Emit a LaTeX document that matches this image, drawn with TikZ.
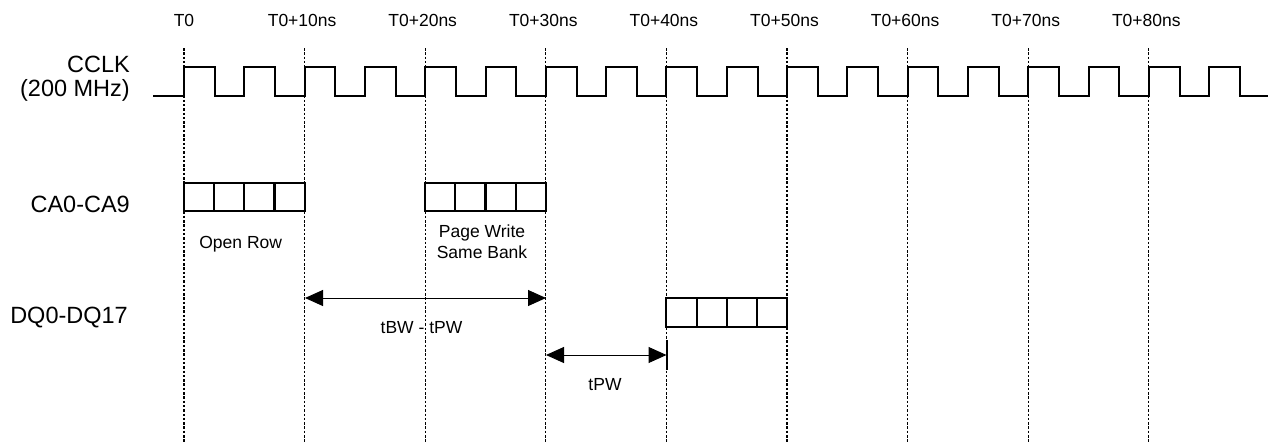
\documentclass[tikz,border=0pt]{standalone}
\usepackage{fontspec}
\setmainfont{Liberation Sans}
\usetikzlibrary{arrows.meta}
\begin{document}
\begin{tikzpicture}[x=1pt,y=-1pt,
  grid/.style={line width=1.1pt,dash pattern=on 2.5pt off 1.8pt},
  clk/.style={line width=2pt,line join=miter},
  cell/.style={draw,line width=2.1pt,minimum width=30.15pt,minimum height=28.5pt,inner sep=0pt,outer sep=0pt},
  toplbl/.style={font=\fontsize{17.5}{20}\selectfont,anchor=base,inner sep=0pt},
  sidelbl/.style={font=\fontsize{23.5}{27}\selectfont,anchor=base east,inner sep=0pt},
  smalllbl/.style={font=\fontsize{17.5}{20}\selectfont,anchor=base,inner sep=0pt},
  dim/.style={line width=1pt,{Triangle[length=18pt,width=16pt]}-{Triangle[length=18pt,width=16pt]}},
  bar/.style={line width=1.6pt}]
\useasboundingbox (0,0) rectangle (1268,447);
% time grid
\foreach \k/\txt in {0/T0,1/T0+10ns,2/T0+20ns,3/T0+30ns,4/T0+40ns,5/T0+50ns,6/T0+60ns,7/T0+70ns,8/T0+80ns}{
  \coordinate (g\k top) at ({184+\k*120.6},48);
  \coordinate (g\k bot) at ({184+\k*120.6},443);
  \draw[grid] (g\k top) -- (g\k bot);
  \node[toplbl] (t\k) at ({184+\k*120.6-(\k>0)*2.5},27) {\txt};
}
% clock
\draw[clk] (153,96) \foreach \j in {0,...,17}{ -- ({184+\j*60.3},96) -- ({184+\j*60.3},67) -- ({214.8+\j*60.3},67) -- ({214.8+\j*60.3},96) } -- (1268,96);
% side labels
\node[sidelbl] (lclk) at (130,72) {CCLK};
\node[sidelbl] (lfreq) at (130,96) {(200 MHz)};
\node[sidelbl] (lca) at (130,212) {CA0-CA9};
\node[sidelbl] (ldq) at (128,323) {DQ0-DQ17};
% command boxes
\foreach \i in {0,...,3}{
  \node[cell] (ca1\i) at ({184+15.075+\i*30.15},197) {};
  \node[cell] (ca2\i) at ({425.2+15.075+\i*30.15},197) {};
  \node[cell] (dq\i) at ({666.4+15.075+\i*30.15},312.5) {};
}
\node[smalllbl] (lopen) at (240.7,248) {Open Row};
\node[smalllbl] (lpw1) at (482,237) {Page Write};
\node[smalllbl] (lpw2) at (482,258) {Same Bank};
% timing arrows
\coordinate (a1) at (305,298);
\coordinate (a2) at (546,298);
\draw[dim] (a1) -- (a2);
\node[smalllbl] (lbw) at (421.5,333) {tBW - tPW};
\coordinate (b1) at (546,355);
\coordinate (b2) at (666.5,355);
\draw[dim] (b1) -- (b2);
\coordinate (bt) at (667,340);
\coordinate (bb) at (667,370);
\draw[bar] (bt) -- (bb);
\node[smalllbl] (lpw) at (605,390) {tPW};
\end{tikzpicture}
\end{document}
